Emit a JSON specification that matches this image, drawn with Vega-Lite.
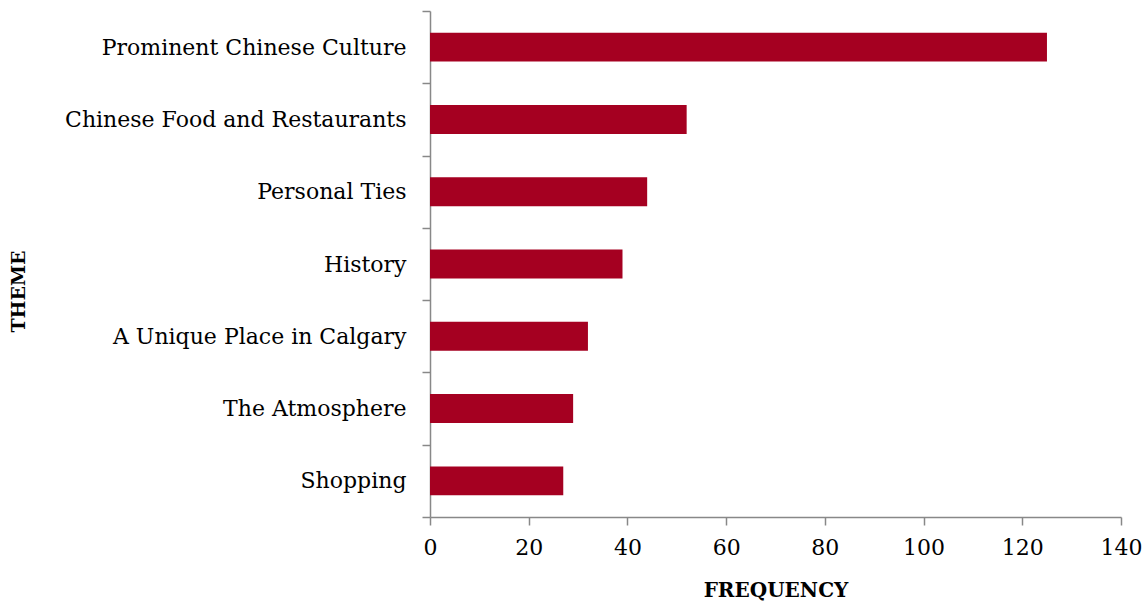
{
  "$schema": "https://vega.github.io/schema/vega-lite/v6.json",
  "autosize": "none",
  "width": 691,
  "height": 506,
  "padding": {"left": 430, "top": 11, "right": 26, "bottom": 88},
  "background": "white",
  "config": {"view": {"stroke": null}, "font": "DejaVu Serif"},
  "data": {"values": [
    {"theme": "Prominent Chinese Culture", "frequency": 125},
    {"theme": "Chinese Food and Restaurants", "frequency": 52},
    {"theme": "Personal Ties", "frequency": 44},
    {"theme": "History", "frequency": 39},
    {"theme": "A Unique Place in Calgary", "frequency": 32},
    {"theme": "The Atmosphere", "frequency": 29},
    {"theme": "Shopping", "frequency": 27}
  ]},
  "mark": {"type": "bar", "color": "#A50021", "height": {"band": 0.4}},
  "encoding": {
    "y": {
      "field": "theme", "type": "nominal", "sort": null,
      "scale": {"paddingInner": 0, "paddingOuter": 0},
      "axis": {
        "title": "THEME", "titleFont": "DejaVu Serif", "titleFontSize": 19, "titleFontWeight": "bold",
        "titleColor": "#000", "titleY": 280, "titleX": -412, "titleAngle": -90, "titleAlign": "center", "titleBaseline": "middle",
        "labelFont": "DejaVu Serif", "labelFontSize": 22, "labelColor": "#000", "labelPadding": 16, "labelLimit": 420,
        "tickBand": "extent", "tickSize": 8, "tickColor": "#888", "domainColor": "#888", "domainWidth": 1.5, "tickWidth": 1.5,
        "grid": false
      }
    },
    "x": {
      "field": "frequency", "type": "quantitative",
      "scale": {"domain": [0, 140], "nice": false},
      "axis": {
        "title": "FREQUENCY", "titleFont": "DejaVu Serif", "titleFontSize": 20, "titleFontWeight": "bold",
        "titleColor": "#000", "titlePadding": 22,
        "values": [0, 20, 40, 60, 80, 100, 120, 140],
        "labelFont": "DejaVu Serif", "labelFontSize": 22, "labelColor": "#000", "labelPadding": 12,
        "tickSize": 8, "tickColor": "#888", "domainColor": "#888", "domainWidth": 1.5, "tickWidth": 1.5,
        "grid": false, "labelFlush": false
      }
    }
  }
}
